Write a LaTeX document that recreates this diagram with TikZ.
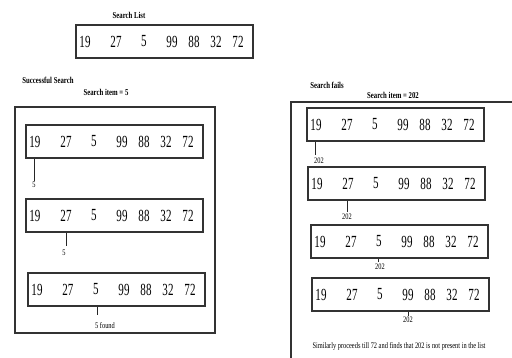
\documentclass[tikz,border=0pt]{standalone}
\usepackage{fontspec}
\setmainfont{Liberation Serif}
\newfontfamily\numfont[FakeStretch=0.65]{Liberation Serif}
\newfontfamily\lblfont[FakeStretch=0.75]{Liberation Serif}
\usetikzlibrary{positioning}
\tikzset{
  listbox/.style={draw=black!80,line width=1.1pt,minimum width=177pt,minimum height=33pt,inner sep=0pt},
  cislo/.style={inner sep=0pt,font=\numfont\fontsize{17}{19}\selectfont},
  nadpis/.style={inner sep=0pt,font=\lblfont\bfseries\fontsize{9}{10}\selectfont},
  popis/.style={inner sep=1pt,font=\lblfont\fontsize{8.5}{10}\selectfont},
  ukaz/.style={black!85,line width=0.8pt},
  ramec/.style={draw=black!80,line width=1.1pt},
}
% one row of the list: name, left, top
\newcommand{\radek}[3]{%
  \node (#1) [listbox] at (#2+88.5,#3+16.5) {};
  \foreach \v/\dx in {19/9,27/40,5/68,99/96,88/118,32/140,72/162}
    \node (#1n\v) [cislo] at (#2+\dx,#3+16.5) {\v};
}
\begin{document}
\begin{tikzpicture}[x=1pt,y=-1pt]
  \useasboundingbox (0,0) rectangle (512,358);
  % search list
  \node (tl) [nadpis] at (129,15) {Search List};
  \radek{top}{76}{25}
  % successful search
  \node (ss) [nadpis] at (48,80) {Successful Search};
  \node (si) [nadpis] at (106,92) {Search item = 5};
  \draw[ramec] (15,107) rectangle (215,333);
  \radek{la}{26}{125}
  \radek{lb}{26}{199}
  \radek{lc}{28}{273}
  \node (pa) [popis] at (34,185) {5};
  \node (pb) [popis] at (64,253) {5};
  \node (pc) [popis] at (105,326) {5 found};
  \coordinate (kc) at (97,315);
  \draw[ukaz] (pa.north) -- (pa.north |- la.south);
  \draw[ukaz] (66,246) -- (66,246 |- lb.south);
  \draw[ukaz] (kc) -- (kc |- lc.south);
  % search fails
  \node (sf) [nadpis] at (327,85) {Search fails};
  \node (sj) [nadpis] at (393,95) {Search item = 202};
  \draw[ramec] (512,102) -- (291,102) -- (291,358);
  \radek{ra}{307}{108}
  \radek{rb}{308}{167}
  \radek{rc}{311}{225}
  \radek{rd}{312}{278}
  \node (qa) [popis] at (319,161) {202};
  \node (qb) [popis] at (347,217) {202};
  \node (qc) [popis] at (380,267) {202};
  \node (qd) [popis] at (408,320) {202};
  \coordinate (ka) at (315,155);
  \coordinate (kb) at (347,212);
  \coordinate (kcc) at (378,262);
  \draw[ukaz] (ka) -- (ka |- ra.south);
  \draw[ukaz] (kb) -- (kb |- rb.south);
  \draw[ukaz] (kcc) -- (kcc |- rc.south);
  \draw[ukaz] (qd.north) -- (qd.north |- rd.south);
  \node (zaver) [popis] at (399,346) {Similarly proceeds till 72 and finds that 202 is not present in the list};
\end{tikzpicture}
\end{document}
